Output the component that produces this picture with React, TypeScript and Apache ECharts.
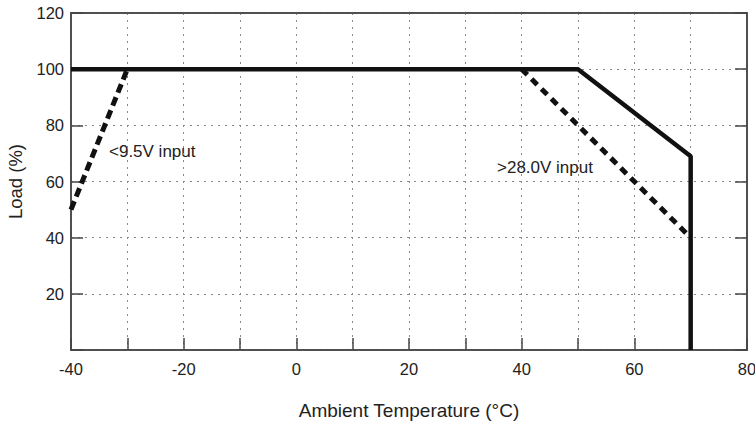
import React, { useEffect, useRef } from "react";
import * as echarts from "echarts";

const xTicks = [-40, -20, 0, 20, 40, 60, 80];
const yTicks = [20, 40, 60, 80, 100, 120];
const nominalCurve: number[][] = [[-40, 100], [50, 100], [70, 69], [70, 0]];
const lowInputCurve: number[][] = [[-40, 50], [-30, 100]];
const highInputCurve: number[][] = [[40, 100], [70, 40]];
const lowLabel = "<9.5V input";
const highLabel = ">28.0V input";

export default function App() {
  const ref = useRef<HTMLDivElement>(null);
  useEffect(() => {
    document.body.style.margin = "0";
    const chart = echarts.init(ref.current!, null, { renderer: "svg" });
    const font = "Liberation Sans, Arial, Helvetica, sans-serif";
    const axisLine = { show: true, onZero: false, lineStyle: { color: "#444", width: 1.5 } };
    const split = { show: true, lineStyle: { color: "#888", type: [2, 5] as any, width: 1 } };
    const tick = { show: true, inside: true, length: 12, lineStyle: { color: "#444", width: 1.5 } };
    chart.setOption({
      animation: false,
      grid: {
        left: 71, right: 8, top: 13, bottom: 71, show: true, borderColor: "#444", borderWidth: 1.5,
        containLabel: false, outerBoundsMode: "none",
      } as any,
      xAxis: [
        {
          type: "value", min: -40, max: 80, interval: 10,
          name: "Ambient Temperature (°C)", nameLocation: "middle", nameGap: 51,
          nameTextStyle: { fontFamily: font, fontSize: 19, color: "#222" },
          axisLine, axisTick: tick,
          axisLabel: {
            fontFamily: font, fontSize: 16.5, color: "#222", margin: 10,
            formatter: (v: number) => (xTicks.includes(v) ? String(v) : ""),
          },
          splitLine: split,
        },
        { type: "value", position: "top", min: -40, max: 80, axisLine, axisTick: { show: false }, axisLabel: { show: false }, splitLine: { show: false } },
      ],
      yAxis: [
        {
          type: "value", min: 0, max: 120, interval: 20,
          name: "Load (%)", nameLocation: "middle", nameGap: 46,
          nameTextStyle: { fontFamily: font, fontSize: 18.5, color: "#222" },
          axisLine, axisTick: tick,
          axisLabel: {
            fontFamily: font, fontSize: 16.5, color: "#222", margin: 7,
            formatter: (v: number) => (yTicks.includes(v) ? String(v) : ""),
          },
          splitLine: split,
        },
        {
          type: "value", position: "right", min: 0, max: 120, interval: 20,
          axisLine, axisTick: tick,
          axisLabel: { show: false }, splitLine: { show: false },
        },
      ],
      graphic: [
        { type: "text", left: 109, top: 143, style: { text: lowLabel, font: `17px ${font}`, fill: "#222" } },
        { type: "text", left: 497, top: 159, style: { text: highLabel, font: `17px ${font}`, fill: "#222" } },
      ],
      series: [
        { type: "line", data: nominalCurve, symbol: "none", lineStyle: { color: "#111", width: 4.5 }, z: 3 },
        { type: "line", data: lowInputCurve, symbol: "none", lineStyle: { color: "#111", width: 5, type: [9, 5] as any }, z: 4 },
        { type: "line", data: highInputCurve, symbol: "none", lineStyle: { color: "#111", width: 5, type: [8, 6] as any }, z: 4 },
      ],
    });
    return () => chart.dispose();
  }, []);
  return <div ref={ref} style={{ width: 755, height: 421 }} />;
}
